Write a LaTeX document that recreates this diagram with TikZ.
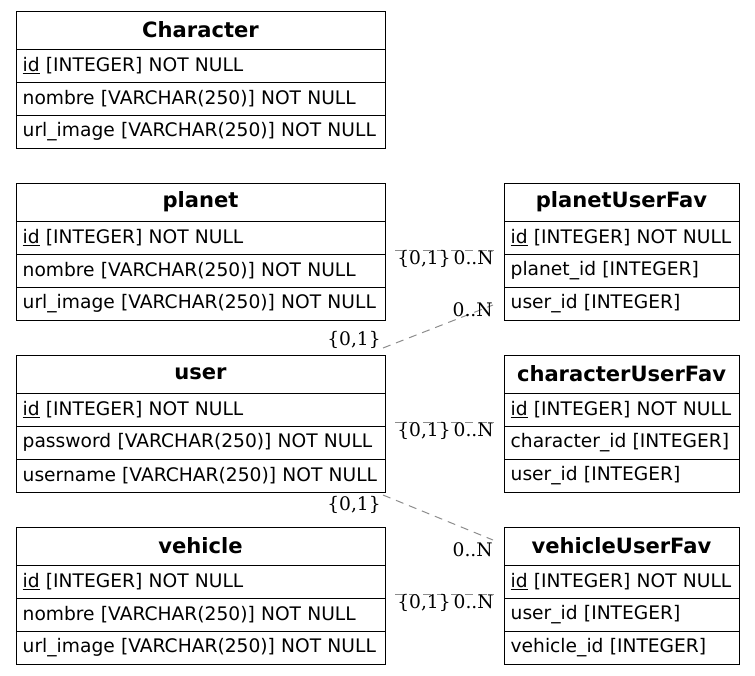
\documentclass[tikz,border=0pt]{standalone}
\usepackage{fontspec}
\setmainfont{DejaVu Sans}
\newfontfamily\labelfont{DejaVu Serif}
\usetikzlibrary{calc,positioning}

\tikzset{
  tbl/.style={draw=black, line width=0.75pt, outer sep=0pt, anchor=north west, inner xsep=5pt, inner ysep=0pt, align=left},
  wide/.style={text width=266.75pt},
  narrow/.style={text width=166.25pt},
  hdr/.style={tbl, minimum height=28.5pt, align=center, font=\fontsize{15.8}{18}\selectfont\bfseries},
  fld/.style={tbl, minimum height=24.75pt, font=\fontsize{14}{16}\selectfont},
  conn/.style={draw=gray!90, line width=0.75pt, dash pattern=on 6pt off 4.5pt},
  card/.style={inner sep=0pt, font=\labelfont\fontsize{14}{16}\selectfont}
}

\begin{document}
\begin{tikzpicture}[x=0.75pt, y=-0.75pt]
\useasboundingbox (0,0) rectangle (755,675);

% Character
\node[hdr, wide] (char-h) at (16,11) {Character};
\node[fld, wide, below=0pt of char-h.south west, anchor=north west] (char-1) {\underline{id} [INTEGER] NOT NULL};
\node[fld, wide, below=0pt of char-1.south west, anchor=north west] (char-2) {nombre [VARCHAR(250)] NOT NULL};
\node[fld, wide, below=0pt of char-2.south west, anchor=north west] (char-3) {url\_image [VARCHAR(250)] NOT NULL};

% planet
\node[hdr, wide] (planet-h) at (16,183) {planet};
\node[fld, wide, below=0pt of planet-h.south west, anchor=north west] (planet-1) {\underline{id} [INTEGER] NOT NULL};
\node[fld, wide, below=0pt of planet-1.south west, anchor=north west] (planet-2) {nombre [VARCHAR(250)] NOT NULL};
\node[fld, wide, below=0pt of planet-2.south west, anchor=north west] (planet-3) {url\_image [VARCHAR(250)] NOT NULL};

% user
\node[hdr, wide] (user-h) at (16,355) {user};
\node[fld, wide, below=0pt of user-h.south west, anchor=north west] (user-1) {\underline{id} [INTEGER] NOT NULL};
\node[fld, wide, below=0pt of user-1.south west, anchor=north west] (user-2) {password [VARCHAR(250)] NOT NULL};
\node[fld, wide, below=0pt of user-2.south west, anchor=north west] (user-3) {username [VARCHAR(250)] NOT NULL};

% vehicle
\node[hdr, wide] (veh-h) at (16,527) {vehicle};
\node[fld, wide, below=0pt of veh-h.south west, anchor=north west] (veh-1) {\underline{id} [INTEGER] NOT NULL};
\node[fld, wide, below=0pt of veh-1.south west, anchor=north west] (veh-2) {nombre [VARCHAR(250)] NOT NULL};
\node[fld, wide, below=0pt of veh-2.south west, anchor=north west] (veh-3) {url\_image [VARCHAR(250)] NOT NULL};

% planetUserFav
\node[hdr, narrow] (puf-h) at (504,183) {planetUserFav};
\node[fld, narrow, below=0pt of puf-h.south west, anchor=north west] (puf-1) {\underline{id} [INTEGER] NOT NULL};
\node[fld, narrow, below=0pt of puf-1.south west, anchor=north west] (puf-2) {planet\_id [INTEGER]};
\node[fld, narrow, below=0pt of puf-2.south west, anchor=north west] (puf-3) {user\_id [INTEGER]};

% characterUserFav
\node[hdr, narrow] (cuf-h) at (504,355) {characterUserFav};
\node[fld, narrow, below=0pt of cuf-h.south west, anchor=north west] (cuf-1) {\underline{id} [INTEGER] NOT NULL};
\node[fld, narrow, below=0pt of cuf-1.south west, anchor=north west] (cuf-2) {character\_id [INTEGER]};
\node[fld, narrow, below=0pt of cuf-2.south west, anchor=north west] (cuf-3) {user\_id [INTEGER]};

% vehicleUserFav
\node[hdr, narrow] (vuf-h) at (504,527) {vehicleUserFav};
\node[fld, narrow, below=0pt of vuf-h.south west, anchor=north west] (vuf-1) {\underline{id} [INTEGER] NOT NULL};
\node[fld, narrow, below=0pt of vuf-1.south west, anchor=north west] (vuf-2) {user\_id [INTEGER]};
\node[fld, narrow, below=0pt of vuf-2.south west, anchor=north west] (vuf-3) {vehicle\_id [INTEGER]};

% relation end points
\coordinate (r1a) at ($(planet-1.east)+(10,13)$);
\coordinate (r1b) at ($(puf-1.west)+(-10,13)$);
\coordinate (r2a) at ($(user-h.north east)+(-2,-7)$);
\coordinate (r2b) at ($(puf-3.west)+(-11,1.5)$);
\coordinate (r3a) at ($(user-1.east)+(10,12.5)$);
\coordinate (r3b) at ($(cuf-1.west)+(-10,12.5)$);
\coordinate (r4a) at ($(user-3.south east)+(-2,3)$);
\coordinate (r4b) at ($(vuf-h.west)+(-11,-6)$);
\coordinate (r5a) at ($(veh-1.east)+(10,12.5)$);
\coordinate (r5b) at ($(vuf-1.west)+(-10,12.5)$);

% relations
\draw[conn] (r1a) -- (r1b);
\draw[conn] (r2a) -- (r2b);
\draw[conn] (r3a) -- (r3b);
\draw[conn] (r4a) -- (r4b);
\draw[conn] (r5a) -- (r5b);

% cardinalities
\node[card, anchor=north west] (c1a) at ($(r1a)+(2,0)$) {\{0,1\}};
\node[card, anchor=north east] (c1b) at (r1b) {0..N};
\node[card, anchor=south east] (c2a) at ($(r2a)+(-2,1)$) {\{0,1\}};
\node[card, anchor=north east] (c2b) at ($(r2b)+(0,-3)$) {0..N};
\node[card, anchor=north west] (c3a) at ($(r3a)+(2,0)$) {\{0,1\}};
\node[card, anchor=north east] (c3b) at (r3b) {0..N};
\node[card, anchor=north east] (c4a) at ($(r4a)+(-2,1)$) {\{0,1\}};
\node[card, anchor=north east] (c4b) at ($(r4b)+(0,2)$) {0..N};
\node[card, anchor=north west] (c5a) at ($(r5a)+(2,0)$) {\{0,1\}};
\node[card, anchor=north east] (c5b) at (r5b) {0..N};
\end{tikzpicture}
\end{document}
